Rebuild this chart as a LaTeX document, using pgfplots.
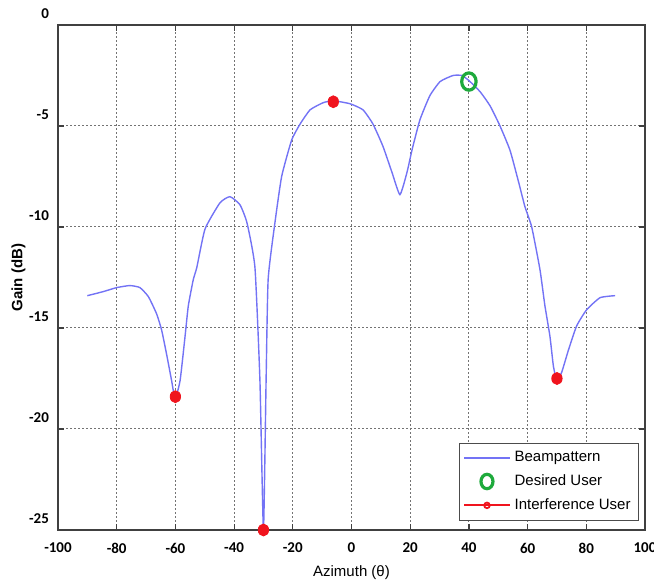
\documentclass[border=0pt]{standalone}
\usepackage{fontspec}
\setmainfont{Liberation Sans}
\newfontfamily\tickfont{Carlito}
\usepackage{pgfplots}
\pgfplotsset{compat=1.18}
\definecolor{beam}{RGB}{115,115,245}
\definecolor{desgreen}{RGB}{30,170,60}
\definecolor{intred}{RGB}{240,20,30}
\begin{document}
\begin{tikzpicture}
\begin{axis}[
  name=ax,
  scale only axis,
  width=293.5pt, height=252.5pt,
  xmin=-100, xmax=100, ymin=-25, ymax=0,
  xtick={-100,-80,...,100},
  ytick={-25,-20,...,0},
  grid=major,
  major grid style={black!55, dash pattern=on 1.2pt off 0.8pt, line width=0.5pt},
  axis line style={black!75, line width=0.9pt},
  tick style={black!75, line width=0.6pt},
  tick align=inside,
  major tick length=3pt,
  /pgf/number format/assume math mode=true,
  ticklabel style={font=\tickfont\bfseries\fontsize{7.5}{8}\selectfont},
  yticklabel style={yshift=5.5pt, xshift=-1pt},
  xticklabel style={yshift=-3pt},
  xlabel={Azimuth (θ)},
  ylabel={\bfseries Gain (dB)},
  label style={font=\fontsize{7.5}{8}\selectfont},
  xlabel style={yshift=1pt},
  ylabel style={yshift=-5pt},
  clip=false,
  legend style={at={(0.99,0.018)}, anchor=south east, draw=black!70, line width=0.6pt,
    font=\fontsize{7.5}{8.5}\selectfont, row sep=1pt, inner sep=2pt},
  legend cell align=left,
  legend image code/.code={\draw[#1] plot coordinates {(0cm,0cm) (0.4cm,0cm) (0.8cm,0cm)};},
]
\addplot[beam, line width=0.7pt, smooth, tension=0.3] coordinates {
(-90,-13.4) (-84.6,-13.2) (-80,-13.0) (-75.5,-12.9) (-72.1,-13.0) (-69.2,-13.45)
(-66.4,-14.3) (-64.7,-15.1) (-63.0,-16.3) (-61.3,-17.6) (-60.1,-18.5) (-58.4,-17.6)
(-56.7,-15.4) (-55.6,-13.9) (-53.9,-12.6) (-52.7,-12.0) (-49.9,-10.1) (-44.8,-8.8)
(-41.4,-8.5) (-38,-8.9) (-35.6,-9.8) (-32.9,-12.0) (-31.2,-17.6) (-30,-25)
(-29.1,-17.6) (-28.4,-12.6) (-26.1,-9.8) (-23.8,-7.5) (-20.4,-5.7) (-17.5,-4.9)
(-14.1,-4.2) (-9.7,-3.85) (-6.2,-3.75) (-0.5,-3.9) (3.9,-4.2) (7.3,-4.9)
(10.7,-6.0) (13.8,-7.3) (16.5,-8.4) (18.9,-7.3) (20.6,-6.2) (23.3,-4.7)
(26.7,-3.5) (30.2,-2.8) (34.6,-2.5) (37.6,-2.5) (40,-2.75) (43.8,-3.3)
(47.2,-4.0) (50.6,-5.0) (54,-6.2) (56.8,-7.7) (59.1,-9.0) (61.4,-10.0)
(64.2,-12.1) (65.9,-13.9) (67.6,-15.4) (68.8,-16.9) (70,-17.6) (71.6,-17.2)
(73.9,-16.1) (76.7,-14.9) (80.1,-14.1) (84.7,-13.5) (89.8,-13.4)
};
\addlegendentry{Beampattern}
\addlegendimage{legend image code/.code={\draw[desgreen, line width=1.6pt] (0.4cm,0cm) ellipse (3pt and 3.6pt);}}
\addlegendentry{Desired User}
\addlegendimage{intred, line width=0.9pt, mark=o, mark size=1.4pt, mark repeat=2, mark phase=2}
\addlegendentry{Interference User}
\addplot[only marks, mark=*, intred, mark size=2.6pt, mark options={yscale=1.15}, forget plot] coordinates {
(-60,-18.4) (-30,-25) (-6.2,-3.8) (70,-17.5)
};
\addplot[only marks, mark=o, desgreen, line width=1.6pt, mark size=3.6pt, mark options={yscale=1.2}, forget plot] coordinates {
(40,-2.8)
};
\end{axis}
\pgfresetboundingbox
\path ([xshift=-29pt,yshift=-28pt]ax.south west) rectangle ([xshift=4.5pt,yshift=12.5pt]ax.north east);
\end{tikzpicture}
\end{document}
